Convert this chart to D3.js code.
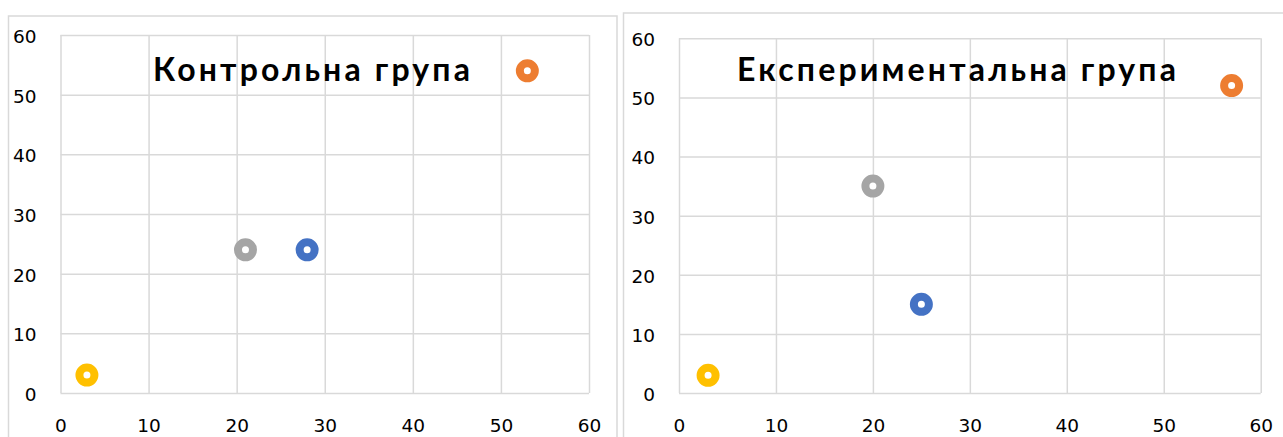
<!DOCTYPE html>
<html>
<head>
<meta charset="utf-8">
<script src="https://cdn.jsdelivr.net/npm/d3@7"></script>
<style>
  html, body { margin: 0; padding: 0; background: #fff; }
  svg { display: block; }
</style>
</head>
<body>
<svg id="chart" width="1283" height="437"></svg>
<script>
// ---- data ----
const xTicks = [0, 10, 20, 30, 40, 50, 60];
const yTicks = [0, 10, 20, 30, 40, 50, 60];
const seriesColors = ["#FFC000", "#A5A5A5", "#4472C4", "#ED7D31"];
const titles = ["Контрольна група", "Експериментальна група"];
const controlX = [3, 21, 28, 53];
const controlY = [3, 24, 24, 54];
const experimentalX = [3, 20, 25, 57];
const experimentalY = [3, 35, 15, 52];

// ---- layout ----
const panels = [
  { frame: { x: 8.5, y: 16, w: 608.5, h: 440 }, plot: { l: 60.5, r: 589, t: 35, b: 393 },
    title: titles[0], titleX: 153, titleW: 317, xs: controlX, ys: controlY },
  { frame: { x: 623.5, y: 13, w: 700, h: 440 }, plot: { l: 679, r: 1260.7, t: 38.3, b: 393 },
    title: titles[1], titleX: 737, titleW: 439, xs: experimentalX, ys: experimentalY }
];

const svg = d3.select("#chart");
const gridColor = "#d9d9d9";
const font = "'DejaVu Sans', sans-serif";

panels.forEach(p => {
  svg.append("rect")
    .attr("x", p.frame.x).attr("y", p.frame.y)
    .attr("width", p.frame.w).attr("height", p.frame.h)
    .attr("fill", "#fff").attr("stroke", gridColor).attr("stroke-width", 1.5);

  const x = d3.scaleLinear().domain([0, 60]).range([p.plot.l, p.plot.r]);
  const y = d3.scaleLinear().domain([0, 60]).range([p.plot.b, p.plot.t]);
  const w = p.plot.r - p.plot.l, h = p.plot.b - p.plot.t;

  const gx = svg.append("g")
    .attr("transform", `translate(0,${p.plot.b})`)
    .call(d3.axisBottom(x).tickValues(xTicks).tickSizeInner(-h).tickSizeOuter(0).tickPadding(26));
  const gy = svg.append("g")
    .attr("transform", `translate(${p.plot.l},0)`)
    .call(d3.axisLeft(y).tickValues(yTicks).tickSizeInner(-w).tickSizeOuter(0).tickPadding(24));

  [gx, gy].forEach(g => {
    g.select(".domain").remove();
    g.selectAll(".tick line").attr("stroke", gridColor).attr("stroke-width", 1.5);
    g.selectAll(".tick text")
      .attr("fill", "#000")
      .style("font-family", font)
      .style("font-size", "18.5px");
  });
  gy.selectAll(".tick text").attr("dy", "0.4em");

  svg.append("text")
    .attr("x", p.titleX).attr("y", 81)
    .attr("textLength", p.titleW).attr("lengthAdjust", "spacing")
    .style("font-family", "Lato, 'DejaVu Sans', sans-serif").style("font-weight", "bold").style("font-size", "32px")
    .attr("fill", "#000")
    .text(p.title);

  const pts = p.xs.map((v, i) => ({ x: v, y: p.ys[i], c: seriesColors[i] }));
  svg.append("g").selectAll("circle").data(pts).join("circle")
    .attr("cx", d => x(d.x)).attr("cy", d => y(d.y))
    .attr("r", 7.5)
    .attr("fill", "#fff")
    .attr("stroke", d => d.c)
    .attr("stroke-width", 8);
});
</script>
</body>
</html>
